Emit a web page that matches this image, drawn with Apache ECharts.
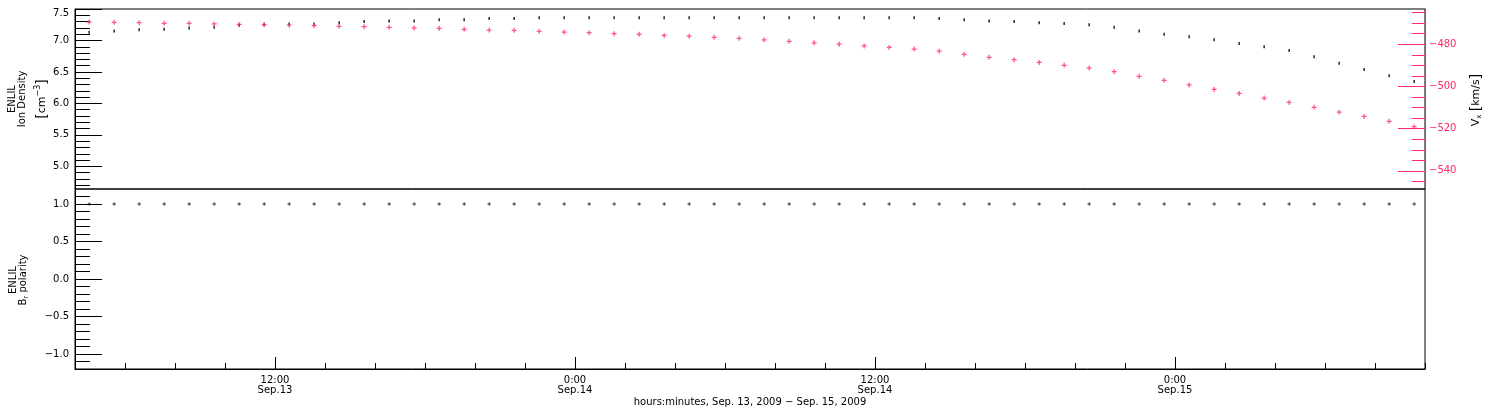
<!DOCTYPE html>
<html><head><meta charset="utf-8">
<script src="https://cdn.jsdelivr.net/npm/echarts@6/dist/echarts.min.js"></script>
<style>html,body{margin:0;padding:0;background:#fff}#c{width:1500px;height:410px}</style>
</head><body><div id="c"></div>
<script>
// ---------------- data ----------------
const times = [
 '2009-09-13T04:34Z','2009-09-13T05:34Z','2009-09-13T06:34Z','2009-09-13T07:34Z','2009-09-13T08:34Z',
 '2009-09-13T09:34Z','2009-09-13T10:34Z','2009-09-13T11:34Z','2009-09-13T12:34Z','2009-09-13T13:34Z',
 '2009-09-13T14:34Z','2009-09-13T15:34Z','2009-09-13T16:34Z','2009-09-13T17:34Z','2009-09-13T18:34Z',
 '2009-09-13T19:34Z','2009-09-13T20:34Z','2009-09-13T21:34Z','2009-09-13T22:34Z','2009-09-13T23:34Z',
 '2009-09-14T00:34Z','2009-09-14T01:34Z','2009-09-14T02:34Z','2009-09-14T03:34Z','2009-09-14T04:34Z',
 '2009-09-14T05:34Z','2009-09-14T06:34Z','2009-09-14T07:34Z','2009-09-14T08:34Z','2009-09-14T09:34Z',
 '2009-09-14T10:34Z','2009-09-14T11:34Z','2009-09-14T12:34Z','2009-09-14T13:34Z','2009-09-14T14:34Z',
 '2009-09-14T15:34Z','2009-09-14T16:34Z','2009-09-14T17:34Z','2009-09-14T18:34Z','2009-09-14T19:34Z',
 '2009-09-14T20:34Z','2009-09-14T21:34Z','2009-09-14T22:34Z','2009-09-14T23:34Z',
 '2009-09-15T00:34Z','2009-09-15T01:34Z','2009-09-15T02:34Z','2009-09-15T03:34Z','2009-09-15T04:34Z',
 '2009-09-15T05:34Z','2009-09-15T06:34Z','2009-09-15T07:34Z','2009-09-15T08:34Z','2009-09-15T09:34Z'
];
const ionDensity = [
 7.13,7.15,7.17,7.18,7.20,7.21,7.24,7.25,7.26,7.26,
 7.28,7.30,7.31,7.31,7.33,7.33,7.35,7.35,7.36,7.36,
 7.36,7.36,7.36,7.36,7.36,7.36,7.36,7.36,7.36,7.36,
 7.36,7.36,7.36,7.36,7.35,7.33,7.31,7.30,7.28,7.27,
 7.25,7.21,7.15,7.10,7.06,7.01,6.95,6.90,6.84,6.74,
 6.64,6.54,6.44,6.35
];
const vx = [
 -469.5,-469.6,-469.8,-470.1,-470.1,-470.4,-470.6,-470.7,-471.0,-471.2,
 -471.5,-471.7,-472.0,-472.3,-472.5,-472.9,-473.3,-473.4,-473.9,-474.2,
 -474.5,-475.0,-475.3,-475.8,-476.2,-476.7,-477.2,-477.9,-478.6,-479.3,
 -480.0,-480.8,-481.5,-482.3,-483.3,-484.8,-486.2,-487.3,-488.6,-490.0,
 -491.3,-493.0,-495.2,-497.1,-499.3,-501.4,-503.3,-505.5,-507.6,-509.9,
 -512.2,-514.2,-516.5,-519.1
];
const brPolarity = [
 1,1,1,1,1,1,1,1,1,1, 1,1,1,1,1,1,1,1,1,1,
 1,1,1,1,1,1,1,1,1,1, 1,1,1,1,1,1,1,1,1,1,
 1,1,1,1,1,1,1,1,1,1, 1,1,1,1
];
const densityTicks = [5.0, 5.5, 6.0, 6.5, 7.0, 7.5];
const vxTicks = [-540, -520, -500, -480];
const polarityTicks = [-1.0, -0.5, 0.0, 0.5, 1.0];
const timeTicks = ['2009-09-13T12:00Z', '2009-09-14T00:00Z', '2009-09-14T12:00Z', '2009-09-15T00:00Z'];
const timeRange = ['2009-09-13T04:00Z', '2009-09-15T10:00Z'];
const xTitle = 'hours:minutes, Sep. 13, 2009 \u2212 Sep. 15, 2009';

// ---------------- helpers ----------------
const FONT = 'DejaVu Sans';
const RED = '#ff2864';
const ts = s => Date.parse(s);
function steps(a, b, st) { const r = []; for (let v = a; v <= b + 1e-9; v += st) r.push(Math.round(v * 1000) / 1000); return r; }
const xMin = ts(timeRange[0]), xMax = ts(timeRange[1]);
const xMinor = steps(xMin, xMax, 2 * 3600 * 1000);
const densMinor = steps(4.7, 7.4, 0.1);
const vxMinor = steps(-545, -465, 5);
const polMinor = steps(-1.1, 1.1, 0.1);
const minus = s => s.replace('-', '\u2212');
const PLUS = 'path://M3,0H5V3H8V5H5V8H3V5H0V3H3Z';
const lbl = { fontFamily: FONT, fontSize: 10, color: '#000' };

const chart = echarts.init(document.getElementById('c'), null, { renderer: 'canvas' });
const noLine = { show: false, onZero: false };
chart.setOption({
  animation: false,
  backgroundColor: '#fff',
  grid: [
    { left: 75, top: 9, width: 1350, height: 180, show: true, borderColor: '#000', borderWidth: 1 },
    { left: 75, top: 189, width: 1350, height: 180, show: true, borderColor: '#000', borderWidth: 1 }
  ],
  xAxis: [
    { type: 'value', gridIndex: 0, min: xMin, max: xMax, axisLine: noLine, axisTick: { show: false }, axisLabel: { show: false }, splitLine: { show: false } },
    { type: 'value', gridIndex: 1, min: xMin, max: xMax, position: 'bottom',
      axisLine: { show: true, onZero: false, lineStyle: { color: '#000', width: 1 } },
      axisTick: { show: true, inside: true, length: 12, lineStyle: { color: '#000' }, customValues: timeTicks.map(ts) },
      axisLabel: { ...lbl, margin: 6, lineHeight: 10, customValues: timeTicks.map(ts),
        formatter: v => { const d = new Date(v); return d.getUTCHours() + ':' + String(d.getUTCMinutes()).padStart(2, '0') + '\nSep.' + d.getUTCDate(); } },
      splitLine: { show: false },
      name: xTitle, nameLocation: 'middle', nameGap: 28, nameMoveOverlap: false,
      nameTextStyle: { fontFamily: FONT, fontSize: 10, color: '#000' } },
    { type: 'value', gridIndex: 1, min: xMin, max: xMax, position: 'bottom', axisLine: noLine,
      axisTick: { show: true, inside: true, length: 6, lineStyle: { color: '#000' }, customValues: xMinor },
      axisLabel: { show: false }, splitLine: { show: false } }
  ],
  yAxis: [
    { type: 'value', gridIndex: 0, position: 'left', min: 4.64, max: 7.5,
      axisLine: { show: true, onZero: false, lineStyle: { color: '#000' } },
      axisTick: { show: true, inside: true, length: 27, lineStyle: { color: '#000' }, customValues: densityTicks },
      axisLabel: { ...lbl, margin: 6, customValues: densityTicks,
        formatter: v => v >= 7.49 ? '{t|' + v.toFixed(1) + '}' : v.toFixed(1),
        rich: { t: { fontFamily: FONT, fontSize: 10, color: '#000', padding: [8, 0, 0, 0] } } },
      splitLine: { show: false } },
    { type: 'value', gridIndex: 0, position: 'left', min: 4.64, max: 7.5, axisLine: noLine,
      axisTick: { show: true, inside: true, length: 15, lineStyle: { color: '#000' }, customValues: densMinor },
      axisLabel: { show: false }, splitLine: { show: false } },
    { type: 'value', gridIndex: 0, position: 'right', min: -548.6, max: -463.3,
      axisLine: { show: true, onZero: false, lineStyle: { color: RED } },
      axisTick: { show: true, inside: true, length: 27, lineStyle: { color: RED }, customValues: vxTicks },
      axisLabel: { fontFamily: FONT, fontSize: 10, color: RED, margin: 4, customValues: vxTicks, formatter: v => minus(String(v)) },
      splitLine: { show: false } },
    { type: 'value', gridIndex: 0, position: 'right', min: -548.6, max: -463.3, axisLine: noLine,
      axisTick: { show: true, inside: true, length: 13, lineStyle: { color: RED }, customValues: vxMinor },
      axisLabel: { show: false }, splitLine: { show: false } },
    { type: 'value', gridIndex: 1, position: 'left', min: -1.2, max: 1.2,
      axisLine: { show: true, onZero: false, lineStyle: { color: '#000' } },
      axisTick: { show: true, inside: true, length: 27, lineStyle: { color: '#000' }, customValues: polarityTicks },
      axisLabel: { ...lbl, margin: 6, customValues: polarityTicks, formatter: v => minus(v.toFixed(1)) },
      splitLine: { show: false } },
    { type: 'value', gridIndex: 1, position: 'left', min: -1.2, max: 1.2, axisLine: noLine,
      axisTick: { show: true, inside: true, length: 15, lineStyle: { color: '#000' }, customValues: polMinor },
      axisLabel: { show: false }, splitLine: { show: false } }
  ],
  series: [
    { name: 'Ion Density', type: 'scatter', xAxisIndex: 0, yAxisIndex: 0, z: 3,
      data: times.map((t, i) => [ts(t), ionDensity[i]]), symbol: 'rect', symbolSize: [1.6, 3], itemStyle: { color: '#000' } },
    { name: 'Vx', type: 'scatter', xAxisIndex: 0, yAxisIndex: 2, z: 4,
      data: times.map((t, i) => [ts(t), vx[i]]), symbol: PLUS, symbolSize: 5, itemStyle: { color: RED } },
    { name: 'Br polarity', type: 'scatter', xAxisIndex: 1, yAxisIndex: 4,
      data: times.map((t, i) => [ts(t), brPolarity[i]]), symbol: PLUS, symbolSize: 3.5, itemStyle: { color: '#000' } }
  ],
  graphic: [
    { type: 'text', x: 32.5, y: 99, rotation: Math.PI / 2, silent: true,
      style: { text: '{a|ENLIL}\n{a|Ion Density}\n{b|[}{c|cm}{s|\u22123}{b|]}', align: 'center', verticalAlign: 'middle', fill: '#000',
        rich: { a: { fontFamily: FONT, fontSize: 10, lineHeight: 10 },
                b: { fontFamily: FONT, fontSize: 14, lineHeight: 30 },
                c: { fontFamily: FONT, fontSize: 11, lineHeight: 30 },
                s: { fontFamily: FONT, fontSize: 8, lineHeight: 30, padding: [0, 0, 9, 0] } } } },
    { type: 'text', x: 18.5, y: 280, rotation: Math.PI / 2, silent: true,
      style: { text: '{a|ENLIL}\n{a|B}{r|r}{a| polarity}', align: 'center', verticalAlign: 'middle', fill: '#000',
        rich: { a: { fontFamily: FONT, fontSize: 10, lineHeight: 10 },
                r: { fontFamily: FONT, fontSize: 7, lineHeight: 10, padding: [5, 0, 0, 0] } } } },
    { type: 'text', x: 1476, y: 100, rotation: Math.PI / 2, silent: true,
      style: { text: '{v|V}{x|x} {b|[}{c|km/s}{b|]}', align: 'center', verticalAlign: 'middle', fill: '#000',
        rich: { v: { fontFamily: FONT, fontSize: 11 },
                x: { fontFamily: FONT, fontSize: 7, padding: [6, 0, 0, 0] },
                b: { fontFamily: FONT, fontSize: 14 },
                c: { fontFamily: FONT, fontSize: 11 } } } }
  ]
});
</script>
</body></html>
